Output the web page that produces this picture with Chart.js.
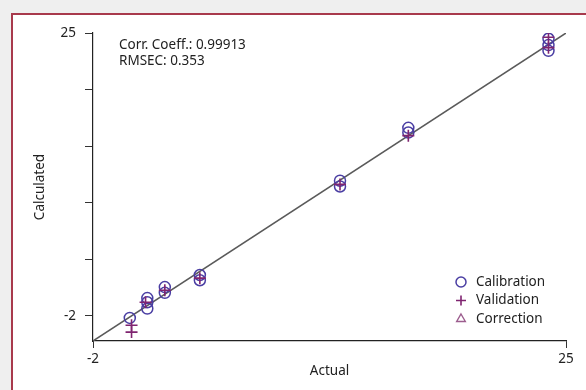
<!DOCTYPE html>
<html>
<head>
<meta charset="utf-8">
<script src="https://cdn.jsdelivr.net/npm/chart.js@4.4.1/dist/chart.umd.min.js"></script>
<style>
  html, body { margin: 0; padding: 0; background: #efefef; }
  body { width: 586px; height: 390px; position: relative; overflow: hidden; }
  #frame {
    position: absolute; left: 11px; top: 13px; width: 577px; height: 379px;
    border-left: 2px solid #a8394c; border-top: 2px solid #a8394c;
    background: #fff;
  }
  #wrap { position: absolute; left: 0; top: 0; width: 573px; height: 375px; }
</style>
</head>
<body>
<div id="frame"><div id="wrap"><canvas id="myChart"></canvas></div></div>
<script>
// values
const calX = [0.1, 1.1, 1.1, 1.1, 2.1, 2.1, 4.1, 4.1, 12.1, 12.1, 16.0, 16.0, 24.0, 24.0, 24.0];
const calY = [-2.2, -0.3, -0.7, -1.3, 0.75, 0.2, 1.9, 1.4, 10.9, 10.35, 15.95, 15.5, 24.45, 23.85, 23.3];
const valX = [0.2, 0.2, 1.0, 2.1, 4.1, 12.1, 16.0, 24.0, 24.0];
const valY = [-2.9, -3.55, -0.7, 0.45, 1.6, 10.55, 15.2, 24.6, 23.6];
const corX = [];
const corY = [];
const fitX = [-2, 25];
const fitY = [-4.4, 25];
const yTicks = [-2, 3.4, 8.8, 14.2, 19.6, 25];
const xTicks = [-2, 25];
const statLines = ["Corr. Coeff.: 0.99913", "RMSEC: 0.353"];

const FONT = "'Noto Sans', sans-serif";
const FSIZE = 13.5;

function pts(xs, ys) {
  return xs.map((x, i) => ({ x: x, y: ys[i] }));
}

const data = {
  datasets: [
    {
      label: "Calibration",
      data: pts(calX, calY),
      pointStyle: "circle",
      pointRadius: 5.5,
      borderWidth: 1.5,
      borderColor: "#4a3ea3",
      backgroundColor: "rgba(0,0,0,0)",
      order: 1,
    },
    {
      label: "Validation",
      data: pts(valX, valY),
      pointStyle: "cross",
      pointRadius: 6,
      borderWidth: 1.6,
      borderColor: "#7f2470",
      backgroundColor: "#7f2470",
      order: 0,
    },
    {
      label: "Correction",
      data: pts(corX, corY),
      pointStyle: "triangle",
      pointRadius: 5,
      borderWidth: 1.4,
      borderColor: "#9c5d8e",
      backgroundColor: "rgba(0,0,0,0)",
      order: 2,
    },
    {
      label: "fit",
      type: "line",
      data: pts(fitX, fitY),
      borderColor: "#5a5a5a",
      borderWidth: 1.5,
      pointRadius: 0,
      order: 3,
    },
  ],
};

/* legend and statistics text */
const extras = {
  id: "extras",
  afterDatasetsDraw(chart) {
    const ctx = chart.ctx;
    ctx.save();
    ctx.font = FSIZE + "px " + FONT;
    ctx.fillStyle = "#222";
    ctx.textBaseline = "middle";
    ctx.textAlign = "left";
    statLines.forEach((t, i) => ctx.fillText(t, 106, 30 + i * 16));

    const items = data.datasets.slice(0, 3);
    items.forEach((ds, i) => {
      const y = 267 + i * 18.5;
      ctx.strokeStyle = ds.borderColor;
      ctx.fillStyle = ds.backgroundColor;
      ctx.lineWidth = ds.borderWidth;
      Chart.helpers.drawPoint(ctx, { pointStyle: ds.pointStyle, radius: 5, rotation: 0, borderWidth: ds.borderWidth }, 448, y);
      ctx.fillStyle = "#222";
      ctx.fillText(ds.label, 463, y);
    });
    ctx.restore();
  },
};

const config = {
  type: "scatter",
  data: data,
  options: {
    responsive: true,
    maintainAspectRatio: false,
    animation: false,
    layout: { padding: { top: 18, right: 20, left: 0, bottom: 0 } },
    plugins: { legend: false, tooltip: { enabled: false } },
    scales: {
      x: {
        type: "linear",
        min: -2,
        max: 25,
        afterBuildTicks: (s) => { s.ticks = xTicks.map((v) => ({ value: v })); },
        afterFit: (s) => { s.height = 49; },
        grid: { drawOnChartArea: false, tickLength: 7, color: "#333", tickColor: "#333" },
        border: { color: "#222", width: 1.2 },
        ticks: { color: "#222", font: { family: FONT, size: FSIZE }, padding: 3, maxRotation: 0 },
        title: { display: true, text: "Actual", color: "#222", font: { family: FONT, size: FSIZE }, padding: { bottom: 11 } },
      },
      y: {
        type: "linear",
        min: -4.4,
        max: 25,
        afterBuildTicks: (s) => { s.ticks = yTicks.map((v) => ({ value: v })); },
        afterFit: (s) => { s.width = 80; },
        grid: { drawOnChartArea: false, tickLength: 8, color: "#333", tickColor: "#333" },
        border: { color: "#222", width: 1.2 },
        ticks: {
          color: "#222",
          font: { family: FONT, size: FSIZE },
          padding: 9,
          callback: (v) => (v === -2 || v === 25 ? String(v) : ""),
        },
        title: { display: true, text: "Calculated", color: "#222", font: { family: FONT, size: FSIZE }, padding: { top: 19 } },
      },
    },
  },
  plugins: [extras],
};

const context = document.getElementById("myChart").getContext("2d");
const chart = new Chart(context, config);
</script>
</body>
</html>
